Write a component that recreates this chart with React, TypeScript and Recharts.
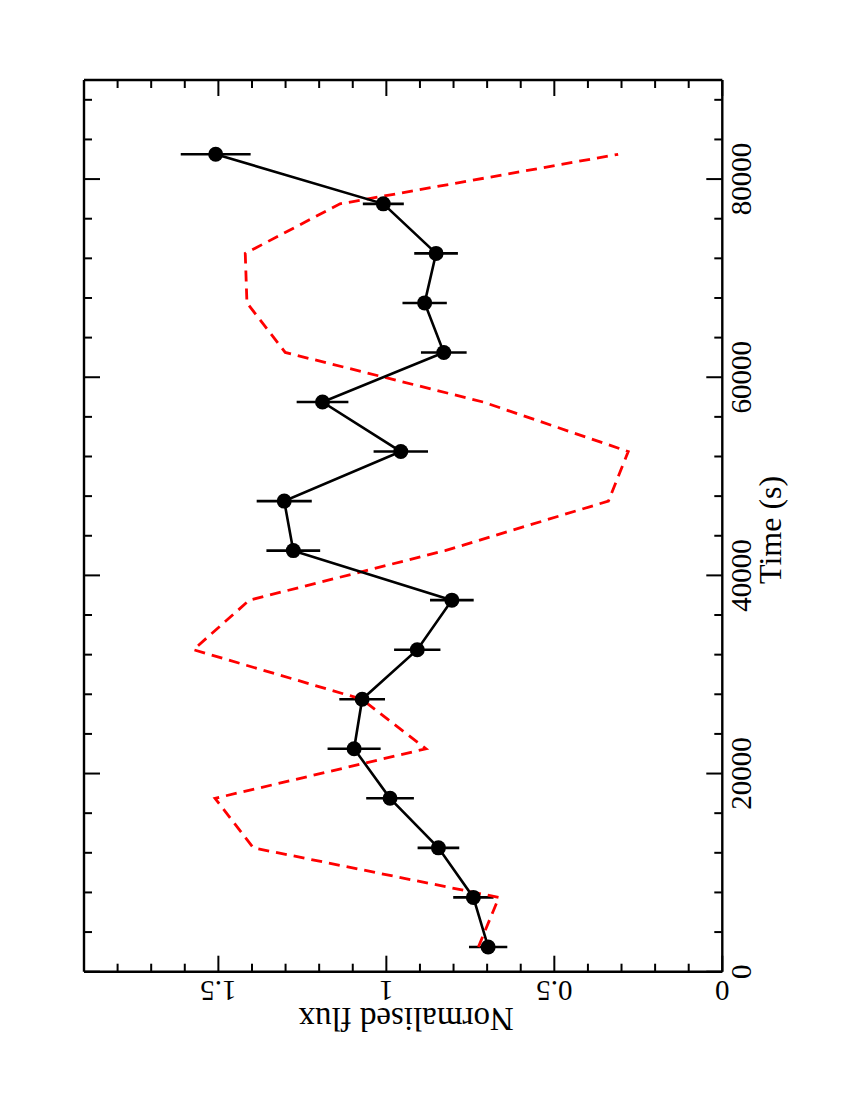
import { ErrorBar, Scatter, ScatterChart, XAxis, YAxis } from 'recharts';

const FONT = '"Liberation Serif", "DejaVu Serif", serif';

// time bins (s)
const TIMES = [
  2500, 7500, 12500, 17500, 22500, 27500, 32500, 37500, 42500, 47500, 52500, 57500, 62500, 67500,
  72500, 77500, 82500,
];

// observed normalised flux + 1 sigma
const FLUX = [
  0.697, 0.741, 0.845, 0.989, 1.096, 1.072, 0.908, 0.805, 1.277, 1.304, 0.957, 1.19, 0.829, 0.886,
  0.852, 1.009, 1.508,
];
const FLUX_ERR = [
  0.057, 0.06, 0.062, 0.071, 0.079, 0.068, 0.069, 0.065, 0.08, 0.082, 0.081, 0.077, 0.068, 0.066,
  0.065, 0.061, 0.104,
];

// model curve (red dashed)
const MODEL = [
  0.726, 0.665, 1.396, 1.51, 0.882, 1.073, 1.574, 1.408, 0.825, 0.339, 0.28, 0.712, 1.301, 1.415,
  1.42, 1.138, 0.31,
];

const FLUX_TICKS = [0, 0.1, 0.2, 0.3, 0.4, 0.5, 0.6, 0.7, 0.8, 0.9, 1, 1.1, 1.2, 1.3, 1.4, 1.5, 1.6, 1.7, 1.8];
const FLUX_LABELS = [0, 0.5, 1, 1.5];
const TIME_TICKS = [
  0, 4000, 8000, 12000, 16000, 20000, 24000, 28000, 32000, 36000, 40000, 44000, 48000, 52000, 56000,
  60000, 64000, 68000, 72000, 76000, 80000, 84000, 88000,
];
const TIME_LABELS = [0, 20000, 40000, 60000, 80000];

const obsData = TIMES.map((t, i) => ({ t, flux: FLUX[i], err: FLUX_ERR[i] }));
const modelData = TIMES.map((t, i) => ({ t, flux: MODEL[i] }));

const MAJOR = 16;
const MINOR = 8;

function BottomTick({ x, y, payload }: any) {
  const major = FLUX_LABELS.includes(payload.value);
  return (
    <g>
      <line x1={x} y1={y} x2={x} y2={y - (major ? MAJOR : MINOR)} stroke="#000" strokeWidth={2} />
      {major && (
        <text
          x={x}
          y={y + 29.3}
          textAnchor="middle"
          fontSize={29}
          fontFamily={FONT}
          fill="#000"
          transform={`rotate(180 ${x} ${y + 19.3})`}
        >
          {String(payload.value)}
        </text>
      )}
    </g>
  );
}

function TopTick({ x, y, payload }: any) {
  const major = FLUX_LABELS.includes(payload.value);
  return <line x1={x} y1={y} x2={x} y2={y + (major ? MAJOR : MINOR)} stroke="#000" strokeWidth={2} />;
}

function RightTick({ x, y, payload }: any) {
  const major = TIME_LABELS.includes(payload.value);
  const bx = x + 28.7;
  return (
    <g>
      <line x1={x} y1={y} x2={x - (major ? MAJOR : MINOR)} y2={y} stroke="#000" strokeWidth={2} />
      {major && (
        <text
          x={bx}
          y={y}
          textAnchor="middle"
          fontSize={29}
          fontFamily={FONT}
          fill="#000"
          transform={`rotate(-90 ${bx} ${y})`}
        >
          {String(payload.value)}
        </text>
      )}
    </g>
  );
}

function LeftTick({ x, y, payload }: any) {
  const major = TIME_LABELS.includes(payload.value);
  return <line x1={x} y1={y} x2={x + (major ? MAJOR : MINOR)} y2={y} stroke="#000" strokeWidth={2} />;
}

function FluxTitle({ viewBox }: any) {
  const cx = viewBox.x + viewBox.width / 2 + 3;
  const by = viewBox.y + 58.3;
  return (
    <text
      x={cx}
      y={by}
      textAnchor="middle"
      fontSize={33}
      fontFamily={FONT}
      fill="#000"
      transform={`rotate(180 ${cx} ${by - 11})`}
    >
      Normalised flux
    </text>
  );
}

function TimeTitle({ viewBox }: any) {
  const bx = viewBox.x + 58.7;
  const cy = viewBox.y + viewBox.height / 2 + 4;
  return (
    <text
      x={bx}
      y={cy}
      textAnchor="middle"
      fontSize={32}
      fontFamily={FONT}
      fill="#000"
      transform={`rotate(-90 ${bx} ${cy})`}
    >
      Time (s)
    </text>
  );
}

const axisLine = { stroke: '#000', strokeWidth: 2.4 };

export default function App() {
  return (
    <div style={{ position: 'absolute', left: 0, top: 0, width: 850, height: 1100, background: '#fff' }}>
      <ScatterChart width={850} height={1100} margin={{ top: 60, right: 67.7, bottom: 98.3, left: 64 }}>
        <XAxis
          xAxisId="b"
          type="number"
          dataKey="flux"
          domain={[0, 1.9]}
          ticks={FLUX_TICKS}
          reversed
          allowDataOverflow
          height={30}
          axisLine={axisLine}
          tickLine={false}
          tickSize={0}
          tickMargin={0}
          interval={0}
          tick={(p: any) => <BottomTick {...p} />}
          label={{ value: 'Normalised flux', content: (p: any) => <FluxTitle {...p} /> }}
        />
        <XAxis
          xAxisId="t"
          orientation="top"
          type="number"
          dataKey="flux"
          domain={[0, 1.9]}
          ticks={FLUX_TICKS}
          reversed
          allowDataOverflow
          height={20}
          axisLine={axisLine}
          tickLine={false}
          tickSize={0}
          tickMargin={0}
          interval={0}
          tick={(p: any) => <TopTick {...p} />}
        />
        <YAxis
          yAxisId="r"
          orientation="right"
          type="number"
          dataKey="t"
          domain={[0, 90000]}
          ticks={TIME_TICKS}
          allowDataOverflow
          width={60}
          axisLine={axisLine}
          tickLine={false}
          tickSize={0}
          tickMargin={0}
          interval={0}
          tick={(p: any) => <RightTick {...p} />}
          label={{ value: 'Time (s)', content: (p: any) => <TimeTitle {...p} /> }}
        />
        <YAxis
          yAxisId="l"
          orientation="left"
          type="number"
          dataKey="t"
          domain={[0, 90000]}
          ticks={TIME_TICKS}
          allowDataOverflow
          width={20}
          axisLine={axisLine}
          tickLine={false}
          tickSize={0}
          tickMargin={0}
          interval={0}
          tick={(p: any) => <LeftTick {...p} />}
        />
        <Scatter
          xAxisId="b"
          yAxisId="r"
          data={modelData}
          line={{ stroke: '#ff0000', strokeWidth: 2.8, strokeDasharray: '11 7' }}
          shape={() => <g />}
          isAnimationActive={false}
        />
        <Scatter
          xAxisId="b"
          yAxisId="r"
          data={obsData}
          fill="#000"
          line={{ stroke: '#000', strokeWidth: 2.6 }}
          shape={(p: any) => <circle cx={p.cx} cy={p.cy} r={7.5} fill="#000" />}
          isAnimationActive={false}
        >
          <ErrorBar dataKey="err" direction="x" width={0} stroke="#000" strokeWidth={2.6} isAnimationActive={false} />
        </Scatter>
      </ScatterChart>
    </div>
  );
}
